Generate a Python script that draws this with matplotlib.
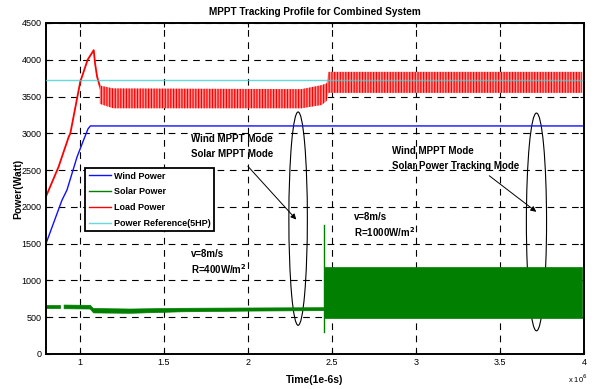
import matplotlib

matplotlib.use("Agg")
import matplotlib.pyplot as plt
from matplotlib.patches import Ellipse

plt.rcParams["font.family"] = ["Liberation Sans", "DejaVu Sans"]
plt.rcParams["hatch.linewidth"] = 0.9

# Time axis in units of 1e6 samples (1e-6 s each)
wind_t = [0.8, 0.895, 0.925, 0.985, 1.024, 1.05, 1.064, 3.99]
wind_p = [1500, 2090, 2230, 2680, 2910, 3060, 3100, 3100]

load_ramp_t = [0.8, 0.875, 0.935, 0.945, 1.004, 1.048, 1.084, 1.092, 1.104, 1.124]
load_ramp_p = [2140, 2545, 2950, 3000, 3700, 4000, 4130, 3950, 3770, 3610]

load_band_t = [1.12, 1.2, 2.32, 2.44, 2.47, 2.48, 3.99]
load_band_hi = [3650, 3610, 3600, 3655, 3680, 3835, 3835]
load_band_lo = [3400, 3340, 3340, 3385, 3440, 3550, 3550]

ref_t = [0.8, 3.99]
ref_p = [3730, 3730]

solar_a_t = [0.8, 0.885]
solar_a_hi = [662, 662]
solar_a_lo = [622, 622]
solar_b_t = [0.905, 1.06]
solar_b_hi = [672, 668]
solar_b_lo = [622, 618]
solar_c_t = [1.06, 1.08, 1.3, 1.6, 2.0, 2.45]
solar_c_hi = [668, 625, 618, 628, 632, 636]
solar_c_lo = [618, 565, 560, 580, 590, 596]
solar_spike_t = [2.452, 2.452]
solar_spike_p = [300, 1755]
solar_d_t = [2.455, 3.99]
solar_d_hi = [1180, 1180]
solar_d_lo = [490, 490]

BLUE = "#1010ff"
GREEN = "#007f00"
RED = "#ff0000"
CYAN = "#40d0d0"

fig = plt.figure(figsize=(6.01, 3.89), dpi=100)
ax = fig.add_axes([0.0765, 0.09, 0.895, 0.851])

ax.plot(wind_t, wind_p, color=BLUE, lw=1.0, label="Wind Power")
ax.plot([], [], color=GREEN, lw=1.0, label="Solar Power")
ax.plot([], [], color=RED, lw=1.0, label="Load Power")
ax.plot(ref_t, ref_p, color=CYAN, lw=1.0, label="Power Reference(5HP)", zorder=3,
        alpha=0.8)

# load power: ramp, then oscillating band
ax.plot(load_ramp_t, load_ramp_p, color=RED, lw=1.3)
ax.fill_between(load_band_t, load_band_lo, load_band_hi, facecolor="#ff9a9a",
                edgecolor=RED, hatch="||||||", lw=0, zorder=2)

# solar power bands
for t, lo, hi in [(solar_a_t, solar_a_lo, solar_a_hi),
                  (solar_b_t, solar_b_lo, solar_b_hi),
                  (solar_c_t, solar_c_lo, solar_c_hi),
                  (solar_d_t, solar_d_lo, solar_d_hi)]:
    ax.fill_between(t, lo, hi, color=GREEN, lw=0.5, zorder=2)
ax.plot(solar_spike_t, solar_spike_p, color=GREEN, lw=1.0)

ax.set_xlim(0.8, 4)
ax.set_ylim(0, 4500)
ax.set_xticks([1, 1.5, 2, 2.5, 3, 3.5, 4])
ax.set_xticklabels(["1", "1.5", "2", "2.5", "3", "3.5", "4"])
ax.set_yticks(range(0, 4501, 500))
ax.tick_params(direction="in", labelsize=6.5, top=True, right=True,
               length=3, width=0.8, pad=3)
ax.grid(True, color="black", ls=(0, (6, 5)), lw=0.8)
for s in ax.spines.values():
    s.set_linewidth(1.4)

ax.set_title("MPPT Tracking Profile for Combined System", fontsize=7.2,
             fontweight="bold", pad=6)
ax.set_xlabel("Time(1e-6s)", fontsize=7.5, fontweight="bold", labelpad=6)
ax.set_ylabel("Power(Watt)", fontsize=7.5, fontweight="bold", labelpad=-1)
fig.text(0.945, 0.015, r"x 10$^{6}$", fontsize=5.5)

# mode annotations
ax.add_patch(Ellipse((2.30, 1840), 0.11, 2900, fill=False, ec="black", lw=0.8))
ax.add_patch(Ellipse((3.718, 1795), 0.12, 2960, fill=False, ec="black", lw=0.8))
txt = dict(fontsize=7, fontweight="bold", va="center", ha="left")
ax.text(1.66, 2928, "Wind MPPT Mode", **txt)
ax.text(1.66, 2717, "Solar MPPT Mode", **txt)
ax.text(2.86, 2758, "Wind MPPT Mode", **txt)
ax.text(2.86, 2561, "Solar Power Tracking Mode", **txt)
ax.annotate("", xy=(2.30, 1800), xytext=(1.99, 2580),
            arrowprops=dict(arrowstyle="-|>", color="black", lw=0.7,
                            mutation_scale=8))
ax.annotate("", xy=(3.73, 1910), xytext=(3.424, 2446),
            arrowprops=dict(arrowstyle="-|>", color="black", lw=0.7,
                            mutation_scale=8))
ax.text(1.66, 1363, "v=8m/s", **txt)
ax.text(1.66, 1150, r"R=400W/m$^{\mathbf{2}}$", **txt)
ax.text(2.635, 1866, "v=8m/s", **txt)
ax.text(2.635, 1655, r"R=1000W/m$^{\mathbf{2}}$", **txt)

leg = ax.legend(loc="upper left", bbox_to_anchor=(0.0725, 0.562),
                borderaxespad=0, fontsize=6.5, handlelength=2.5,
                handletextpad=0.3, labelspacing=0.75, fancybox=False,
                framealpha=1, edgecolor="black", borderpad=0.4)
leg.get_frame().set_linewidth(1.3)
for t in leg.get_texts():
    t.set_fontweight("bold")

fig.savefig("out.png", dpi=100)
